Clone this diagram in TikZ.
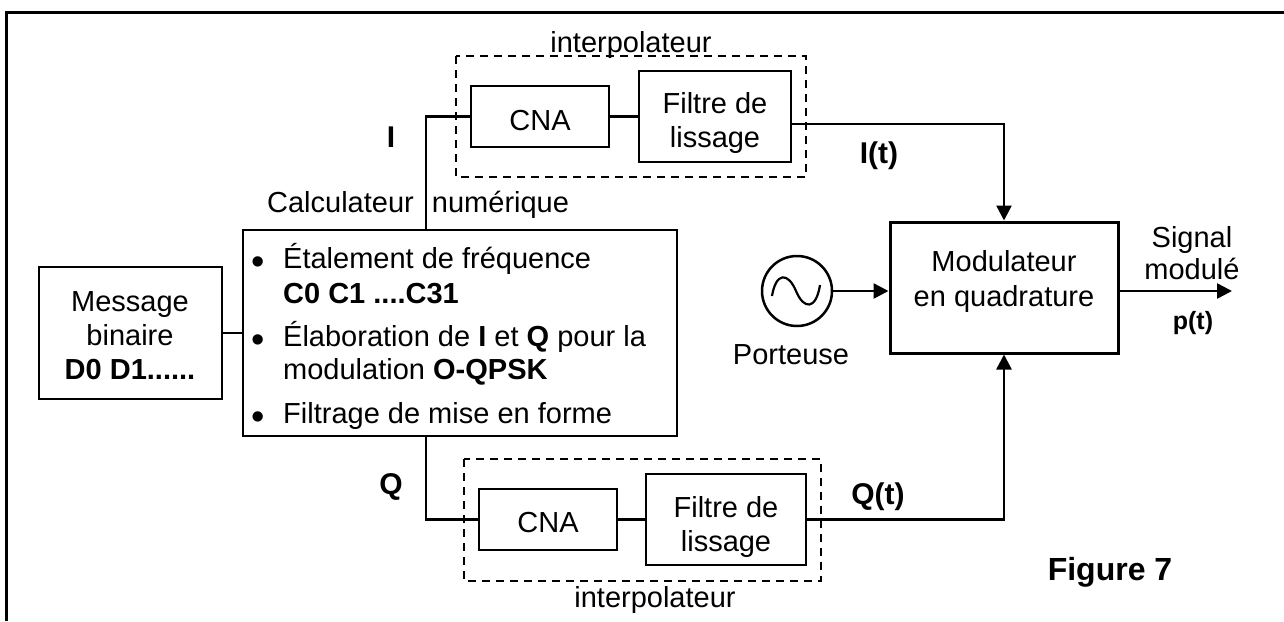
\documentclass[tikz,border=0pt]{standalone}
\usepackage{fontspec}
\setmainfont{Liberation Sans}
\usepackage{tikz}
\usetikzlibrary{arrows.meta}

\newcommand{\bas}[1]{\rule{0pt}{#1pt}}

\begin{document}
\begin{tikzpicture}[
        x=1pt, y=-1pt,
        >={Triangle[length=15pt, width=15pt]},
        bloc/.style={draw, line width=2.8pt, inner sep=0pt, align=center, font=\fontsize{29}{34}\selectfont},
        txt/.style={anchor=base, inner sep=0pt, font=\fontsize{29}{34}\selectfont},
        gras/.style={anchor=base, inner sep=0pt, font=\fontsize{30}{34}\selectfont\bfseries},
        liaison/.style={line width=2.5pt},
        cadre/.style={draw, dash pattern=on 8pt off 6pt, line width=1.6pt},
    ]

    \useasboundingbox (0, 0) rectangle (1284, 621);
    \draw[line width=3pt] (6.5, 621) -- (6.5, 12.5) -- (1284, 12.5);

    % interpolateurs
    \draw[cadre] (456, 56) rectangle (806, 177);
    \draw[cadre] (464, 459) rectangle (821, 581);
    \node[txt] (interI) at (631, 52) {interpolateur};
    \node[txt] (interQ) at (655, 607) {interpolateur};

    \node[bloc, minimum width=138pt, minimum height=61pt] (cnaI) at (540, 116.5) {\bas{29}CNA};
    \node[bloc, minimum width=152pt, minimum height=91pt] (filtreI) at (715, 116.5) {\bas{35}Filtre de\\lissage};
    \node[bloc, minimum width=138pt, minimum height=61pt] (cnaQ) at (548, 519.5) {\bas{27}CNA};
    \node[bloc, minimum width=160pt, minimum height=91pt] (filtreQ) at (726, 519.5) {\bas{37}Filtre de\\lissage};

    % calculateur
    \node[bloc, line width=2pt, minimum width=183pt, minimum height=132pt] (message) at (130, 333) {\bas{26}Message\\binaire\\\textbf{D0 D1......}};
    \node[bloc, line width=2pt, minimum width=434pt, minimum height=206pt] (calcul) at (460, 333) {};
    \node[txt] (calculA) at (340.5, 212) {Calculateur};
    \node[txt] (calculB) at (500.5, 212) {numérique};

    \foreach \nom/\y in {pucea/274.5, puceb/352.5, pucec/429.5}
        \node[txt, font=\fontsize{38}{38}\selectfont] (\nom) at (258, \y) {\textbullet};
    \node[txt, anchor=base west] (etal) at (283, 268) {Étalement de fréquence};
    \node[txt, anchor=base west] (code) at (283, 303) {\textbf{C0 C1 ....C31}};
    \node[txt, anchor=base west] (elab) at (283, 346) {Élaboration de \textbf{I} et \textbf{Q} pour la};
    \node[txt, anchor=base west] (modu) at (283, 379) {modulation \textbf{O-QPSK}};
    \node[txt, anchor=base west] (filt) at (283, 423) {Filtrage de mise en forme};

    % modulateur
    \node[bloc, line width=3pt, minimum width=228pt, minimum height=131pt] (modul) at (1004, 287.5) {Modulateur\\[1pt]en quadrature\rule[-18pt]{0pt}{1pt}};
    \node[draw, circle, line width=2.5pt, minimum size=70pt, inner sep=0pt] (porteuse) at (797, 291) {};
    \draw[line width=2.2pt] (772, 296) .. controls (776, 272) and (788, 272) .. (796, 291)
        .. controls (804, 310) and (816, 310) .. (820, 285);
    \node[txt] (porteuseT) at (791, 364) {Porteuse};

    \coordinate (departI) at (426, 230);
    \coordinate (departQ) at (426, 436);
    \coordinate (sortieI) at (791, 124);
    \coordinate (sortie) at (1232, 291);

    \draw[liaison] (departI) |- (cnaI);
    \draw[liaison] (departQ) |- (cnaQ);
    \draw[liaison] (cnaI) -- (filtreI);
    \draw[liaison] (cnaQ) -- (filtreQ);
    \draw[liaison] (message) -- (calcul);
    \draw[liaison, ->] (sortieI) -| (modul);
    \draw[liaison, ->] (filtreQ) -| (modul);
    \draw[liaison, ->] (porteuse) -- (porteuse -| modul.west);
    \draw[liaison, ->] (porteuse -| modul.east) -- (sortie);

    \node[gras] (lblI) at (391, 147) {I};
    \node[gras] (lblQ) at (391, 494) {Q};
    \node[gras] (lblIt) at (879, 163) {I(t)};
    \node[gras] (lblQt) at (878, 504) {Q(t)};
    \node[txt] (signal) at (1192, 247) {Signal};
    \node[txt] (modulee) at (1192, 279) {modulé};
    \node[gras, font=\fontsize{25}{30}\selectfont\bfseries] (lblp) at (1193, 329) {p(t)};
    \node[gras, font=\fontsize{32}{36}\selectfont\bfseries] (figure) at (1110, 580) {Figure 7};
\end{tikzpicture}
\end{document}
